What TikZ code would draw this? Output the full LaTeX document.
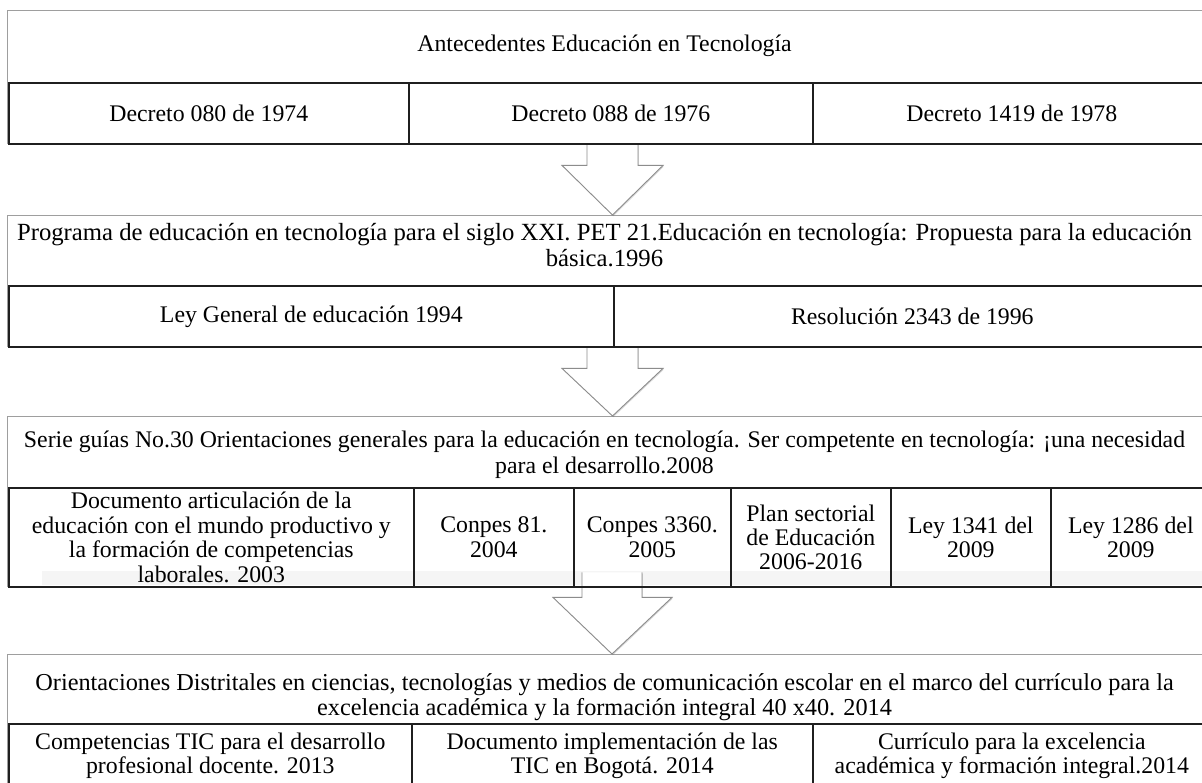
\documentclass[tikz,border=0pt]{standalone}
\usepackage{fontspec}
\setmainfont{Liberation Serif}
\usetikzlibrary{shadows,calc}
\newcommand\txt{\fontsize{23.8}{24.4}\selectfont}
\newcommand\ttl{\fontsize{23.8}{25.6}\selectfont}
\begin{document}
\begin{tikzpicture}[x=1pt,y=-1pt,
  outerbox/.style={draw=black!38, line width=1pt, fill=white, anchor=north west,
    inner sep=0pt, minimum width=1205pt},
  rowbg/.style={fill=white, anchor=north west, inner sep=0pt, minimum width=1205pt,
    drop shadow={shadow xshift=0.6pt, shadow yshift=-1.6pt, opacity=0.45, fill=black!70}},
  cell/.style={draw=black!88, line width=1.6pt, anchor=north west, inner sep=0pt,
    align=center, font=\txt},
  title/.style={align=center, font=\ttl, inner sep=0pt},
  band/.style={fill=black!4},
  blockarrow/.style={draw=black!45, line width=0.9pt, fill=white, line join=miter,
    drop shadow={shadow xshift=0.8pt, shadow yshift=-1.2pt, opacity=0.25, fill=black!60}},
]
\useasboundingbox (0,0) rectangle (1202,782);
\clip (0,0) rectangle (1202,782);
\fill[white] (0,0) rectangle (1202,782);

% ---------- frames and headings ----------
\node[outerbox, minimum height=133pt] (box1) at (7,10) {};
\node[title] (t1) at (604.5,46) {Antecedentes Educación en Tecnología};
\node[rowbg, minimum height=61pt] (row1) at (8,82) {};

\node[outerbox, minimum height=131pt] (box2) at (7,215) {};
\node[title, font=\fontsize{24.7}{25.6}\selectfont] (t2) at (604.5,245) {Programa de educación en tecnología para el siglo XXI. PET 21.Educación en tecnología: Propuesta para la educación\\básica.1996};
\node[rowbg, minimum height=61pt] (row2) at (8,285) {};

\node[outerbox, minimum height=170pt] (box3) at (7,416) {};
\node[title] (t3) at (604.5,455) {Serie guías No.30 Orientaciones generales para la educación en tecnología. Ser competente en tecnología: ¡una necesidad\\para el desarrollo.2008};
\node[rowbg, minimum height=99pt] (row3) at (8,487) {};

\node[outerbox, minimum height=140pt] (box4) at (7,654) {};
\node[title, font=\fontsize{24.3}{25.6}\selectfont] (t4) at (604.5,697) {Orientaciones Distritales en ciencias, tecnologías y medios de comunicación escolar en el marco del currículo para la\\excelencia académica y la formación integral 40 x40. 2014};
\node[rowbg, minimum height=70pt] (row4) at (8,723) {};

% faint band along the bottom of the third row
\fill[band] (42,571) rectangle (1210,585);

% ---------- block arrows ----------
\draw[blockarrow] let \p1=(row1.south), \p2=(box2.north) in
  (587,\y1) -- (587,{\y1-22pt}) -- (562,{\y1-22pt}) -- (612.5,\y2)
  -- (663,{\y1-22pt}) -- (638,{\y1-22pt}) -- (638,\y1);
\draw[blockarrow] let \p1=(row2.south), \p2=(box3.north) in
  (587,\y1) -- (587,{\y1-22pt}) -- (562,{\y1-22pt}) -- (612.5,\y2)
  -- (663,{\y1-22pt}) -- (638,{\y1-22pt}) -- (638,\y1);
\draw[blockarrow] let \p1=(row3.south), \p2=(box4.north) in
  (582,{\y1+14pt}) -- (582,{\y1-11pt}) -- (553,{\y1-11pt}) -- (612,\y2)
  -- (672,{\y1-11pt}) -- (642,{\y1-11pt}) -- (642,{\y1+14pt});

% ---------- cells ----------
\node[cell, minimum width=400pt, minimum height=61pt] (c1a) at (8,82) {Decreto 080 de 1974};
\node[cell, minimum width=404pt, minimum height=61pt] (c1b) at (408,82) {Decreto 088 de 1976};
\node[cell, minimum width=398pt, minimum height=61pt] (c1c) at (812,82) {Decreto 1419 de 1978};

\node[cell, minimum width=605pt, minimum height=61pt] (c2a) at (8,285) {Ley General de educación 1994};
\node[cell, minimum width=597pt, minimum height=61pt] (c2b) at (613,285) {Resolución 2343 de 1996};

\node[cell, minimum width=405pt, minimum height=99pt] (c3a) at (8,487)
  {Documento articulación de la\\educación con el mundo productivo y\\la formación de competencias\\laborales. 2003};
\node[cell, minimum width=160pt, minimum height=99pt] (c3b) at (413,487) {Conpes 81.\\2004};
\node[cell, minimum width=157pt, minimum height=99pt] (c3c) at (573,487) {Conpes 3360.\\2005};
\node[cell, minimum width=160pt, minimum height=99pt] (c3d) at (730,487) {Plan sectorial\\de Educación\\2006-2016};
\node[cell, minimum width=160pt, minimum height=99pt] (c3e) at (890,487) {Ley 1341 del\\2009};
\node[cell, minimum width=160pt, minimum height=99pt] (c3f) at (1050,487) {Ley 1286 del\\2009};

\node[cell, minimum width=403pt, minimum height=64pt] (c4a) at (8,723) {Competencias TIC para el desarrollo\\profesional docente. 2013};
\node[cell, minimum width=401pt, minimum height=64pt] (c4b) at (411,723) {Documento implementación de las\\TIC en Bogotá. 2014};
\node[cell, minimum width=398pt, minimum height=64pt] (c4c) at (812,723) {Currículo para la excelencia\\académica y formación integral.2014};
\end{tikzpicture}
\end{document}
